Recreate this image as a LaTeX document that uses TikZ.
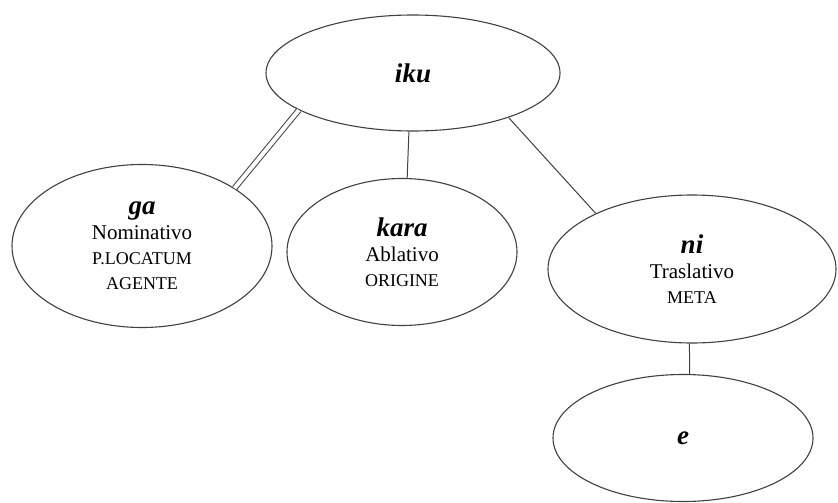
\documentclass[tikz,border=0pt]{standalone}
\usepackage{fontspec}
\setmainfont{Liberation Serif}
\usetikzlibrary{shapes.geometric}

\newcommand\marca[1]{{\bfseries\itshape\fontsize{27}{26}\selectfont #1}}
\newcommand\ruolo[1]{{\fontsize{18}{25}\selectfont #1}}

\begin{document}
\begin{tikzpicture}[
        x=1pt, y=-1pt,
        caso/.style={ellipse, draw=black!75, line width=1.1pt, inner sep=0pt, align=center, font=\fontsize{21}{25}\selectfont},
        legame/.style={draw=black!75, line width=1pt}
    ]
        \useasboundingbox (0,0) rectangle (838,503);

        \node (iku) at (413,73) [caso, minimum width=294pt, minimum height=116pt] {\marca{iku}};
        \node (ga) at (142,246) [caso, minimum width=260pt, minimum height=163pt] {\marca{ga}\\Nominativo\\\ruolo{P.LOCATUM}\\\ruolo{AGENTE}};
        \node (kara) at (402,252) [caso, minimum width=230pt, minimum height=147pt] {\marca{kara}\\Ablativo\\\ruolo{ORIGINE}};
        \node (ni) at (692,269) [caso, minimum width=288pt, minimum height=148pt] {\marca{ni}\\Traslativo\\\ruolo{META}};
        \node (e) at (683,438) [caso, minimum width=260pt, minimum height=127pt] {\marca{e}};

        \draw[legame, double, double distance=4pt] (iku.198) -- (ga.32);
        \draw[legame] (iku.266) -- (kara.86);
        \draw[legame] (iku.335) -- (ni.150);
        \draw[legame] (ni.268.5) -- (e.84);
    \end{tikzpicture}
\end{document}
